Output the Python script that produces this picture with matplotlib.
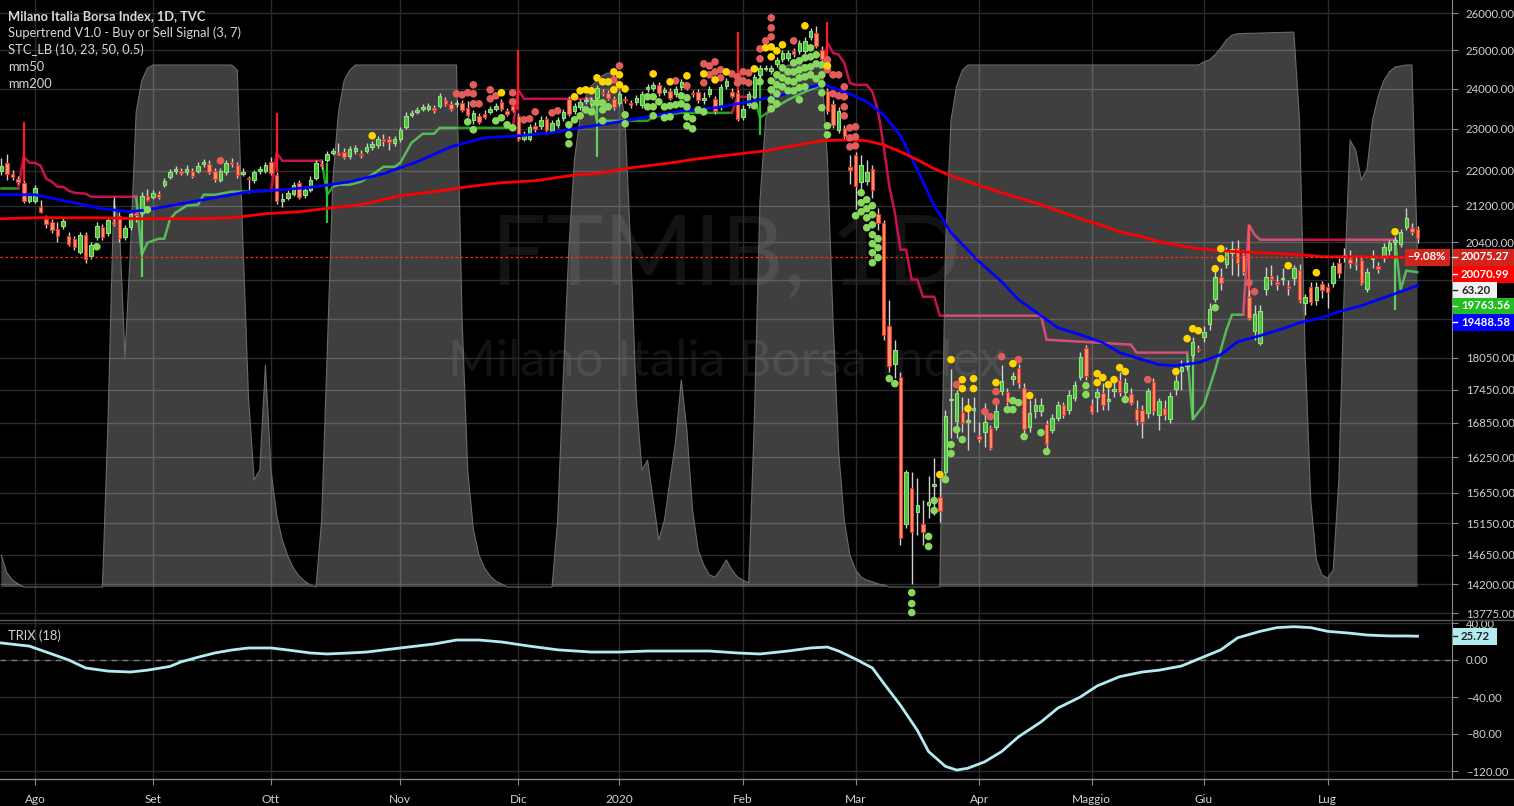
import numpy as np
import pandas as pd
import matplotlib
matplotlib.use('Agg')
import matplotlib.pyplot as plt
from matplotlib.patches import Rectangle
from matplotlib.lines import Line2D
from matplotlib.transforms import Affine2D, blended_transform_factory

plt.rcParams['font.family'] = ['Lato', 'DejaVu Sans']

# ---------------------------------------------------------------- data
holidays = ['2019-08-15', '2019-12-24', '2019-12-25', '2019-12-26', '2019-12-31',
            '2020-01-01', '2020-04-10', '2020-04-13', '2020-05-01']
dates = pd.bdate_range('2019-07-24', '2020-07-23')
dates = dates[~dates.isin(pd.to_datetime(holidays))]

month_names = {8: 'Ago', 9: 'Set', 10: 'Ott', 11: 'Nov', 12: 'Dic', 1: '2020',
               2: 'Feb', 3: 'Mar', 4: 'Apr', 5: 'Maggio', 6: 'Giu', 7: 'Lug'}

# daily candles (open, high, low, close)
candles = [
    # Jul 2019
    (22004, 22308, 21911, 22121), (22190, 22404, 21795, 21934), (21934, 22027, 21795, 21864),
    (21818, 21887, 21704, 21750), (21727, 21772, 21271, 21316), (21316, 21497, 21271, 21429),
    # Aug
    (21316, 21681, 21271, 21612), (21181, 21339, 21047, 21069), (20914, 21003, 20716, 20804),
    (20848, 20914, 20606, 20672), (20694, 20848, 20411, 20541), (20760, 20936, 20694, 20870),
    (20541, 20628, 20325, 20368), (20476, 20541, 20239, 20303), (20196, 20628, 20154, 20563),
    (20563, 20628, 19963, 20047), (20111, 20411, 20047, 20347), (20519, 20848, 20454, 20760),
    (20738, 20804, 20454, 20519), (20606, 20958, 20541, 20892), (20848, 21407, 20760, 20804),
    (20980, 21069, 20411, 20498), (20519, 20782, 20454, 20716), (20738, 21114, 20672, 21025),
    (21047, 21114, 20848, 21003), (21047, 21520, 21003, 21429), (21429, 21589, 21316, 21339),
    # Sep
    (21407, 21566, 21361, 21497), (21474, 21543, 21361, 21407), (21681, 21841, 21635, 21772),
    (21864, 22050, 21818, 21980), (22004, 22121, 21934, 22050), (22004, 22074, 21911, 21957),
    (21980, 22144, 21911, 22050), (22004, 22074, 21841, 21887), (22004, 22214, 21957, 22121),
    (22167, 22284, 22097, 22214), (22167, 22261, 21934, 21980), (22004, 22074, 21750, 21818),
    (21795, 22074, 21750, 22004), (21980, 22261, 21911, 22190), (22214, 22308, 22097, 22167),
    (22144, 22214, 21841, 21911), (21934, 22074, 21887, 21980), (21841, 21887, 21497, 21818),
    (21795, 22027, 21727, 21980), (22004, 22121, 21934, 22050), (22004, 22214, 21957, 22144),
    # Oct
    (22214, 22331, 21911, 21957), (21911, 21980, 21249, 21316), (21316, 21497, 21181, 21361),
    (21384, 21566, 21339, 21497), (21475, 21750, 21429, 21681), (21727, 21795, 21361, 21407),
    (21452, 21635, 21384, 21566), (21566, 21887, 21520, 21795), (21841, 22261, 21795, 22190),
    (22167, 22261, 22050, 22121), (22261, 22474, 22214, 22404), (22427, 22546, 22380, 22474),
    (22427, 22666, 22380, 22380), (22450, 22546, 22285, 22332), (22355, 22594, 22285, 22522),
    (22474, 22618, 22404, 22546), (22404, 22498, 22308, 22380), (22474, 22666, 22427, 22570),
    (22570, 22713, 22498, 22642), (22618, 22834, 22546, 22762), (22762, 22882, 22594, 22713),
    (22762, 22834, 22498, 22689), (22666, 22834, 22594, 22762),
    # Nov
    (22762, 23052, 22689, 22979), (23052, 23420, 23003, 23321), (23346, 23470, 23296, 23395),
    (23420, 23545, 23371, 23470), (23495, 23620, 23445, 23545), (23495, 23645, 23445, 23570),
    (23520, 23595, 23395, 23470), (23570, 23897, 23520, 23821), (23720, 23796, 23570, 23620),
    (23620, 23695, 23445, 23495), (23620, 23720, 23545, 23645), (23645, 23720, 23420, 23470),
    (23520, 23695, 23296, 23346), (23223, 23470, 23125, 23395), (23321, 23395, 23125, 23174),
    (23371, 23470, 23247, 23296), (23420, 23570, 23371, 23495), (23495, 23645, 23445, 23570),
    (23670, 23745, 23445, 23495), (23445, 23520, 23321, 23371), (23570, 23645, 23420, 23470),
    # Dec
    (23321, 23395, 22713, 22762), (22762, 22955, 22713, 22882), (22762, 23125, 22713, 23052),
    (23076, 23174, 22931, 23003), (23076, 23321, 23003, 23223), (23247, 23321, 22882, 22979),
    (22955, 23223, 22906, 23149), (23100, 23296, 23027, 23223), (23272, 23495, 23198, 23420),
    (23745, 23821, 23321, 23371), (23445, 23645, 23371, 23570), (23545, 23745, 23470, 23670),
    (23695, 23796, 23620, 23720), (23620, 23796, 23545, 23720), (23770, 24099, 23695, 24023),
    (23922, 23998, 23821, 23897), (23897, 23972, 23720, 23770), (23745, 23821, 23470, 23545),
    # Jan 2020
    (23645, 23947, 23570, 23872), (23745, 23821, 23645, 23720), (23645, 23720, 23520, 23595),
    (23670, 23846, 23595, 23770), (23595, 23947, 23520, 23872), (23998, 24125, 23922, 24049),
    (24023, 24176, 23947, 24099), (24099, 24176, 23821, 23897), (23922, 24049, 23846, 23972),
    (23947, 24023, 23720, 23770), (23872, 24074, 23796, 23998), (24049, 24252, 23972, 24176),
    (24099, 24176, 23972, 24049), (23897, 23972, 23796, 23872), (23922, 23998, 23645, 23720),
    (23720, 23922, 23620, 23770), (23872, 24074, 23796, 23998), (23745, 23821, 23371, 23445),
    (23545, 24125, 23470, 24049), (24074, 24278, 23998, 24201), (23922, 24023, 23770, 23821),
    (23897, 23972, 23198, 23247),
    # Feb
    (23296, 23595, 23223, 23495), (23595, 23947, 23520, 23872), (23796, 24381, 23720, 24304),
    (24356, 24615, 24278, 24537), (24511, 24615, 24459, 24537), (24459, 24615, 24381, 24537),
    (24641, 24825, 24563, 24746), (24772, 25009, 24693, 24930), (24799, 25009, 24720, 24930),
    (24983, 25062, 24825, 24904), (24983, 25275, 24904, 25195), (24983, 25356, 24904, 25248),
    (25356, 25598, 25275, 25517), (25463, 25652, 25062, 25115), (25009, 25115, 24693, 24772),
    (23947, 24023, 23371, 23445), (23620, 23720, 23027, 23100), (22979, 23545, 22906, 23445),
    (23027, 23100, 22762, 22834), (22097, 22380, 21704, 22027),
    # Mar
    (22380, 22450, 21136, 21658), (21750, 22380, 21566, 22144), (21772, 22261, 21681, 21980),
    (22050, 22144, 21384, 21566), (21025, 21159, 20672, 20826), (20826, 20892, 18401, 18498),
    (18674, 19196, 17788, 17901), (17939, 18401, 17676, 18207), (17694, 17788, 14813, 14922),
    (15146, 16036, 15082, 16002), (15733, 16002, 14199, 15018), (15339, 15900, 14970, 15453),
    (15146, 15535, 14813, 15018), (15453, 15934, 15242, 15502), (15767, 16240, 15290, 15800),
    (15584, 15900, 15178, 15355), (16002, 17087, 15900, 16979), (17269, 17845, 16588, 17287),
    (16889, 17452, 16588, 17397), (17051, 17324, 16694, 16853), (16871, 17305, 16379, 16907),
    (17087, 17324, 16694, 17123),
    # Apr
    (16623, 16871, 16518, 16570), (16694, 17214, 16431, 16871), (16765, 16818, 16379, 16414),
    (16782, 17269, 16729, 17069), (17434, 17920, 17360, 17620), (17415, 17489, 17177, 17232),
    (17657, 17788, 17545, 17713), (17864, 17939, 17489, 17583), (17489, 17583, 16676, 16747),
    (16782, 17269, 16694, 17033), (17069, 17305, 16943, 17177), (17069, 17305, 16979, 17177),
    (16836, 16907, 16414, 16484), (16729, 17015, 16676, 16943), (16943, 17250, 16889, 17177),
    (17177, 17232, 16943, 16997), (17087, 17452, 17015, 17360), (17306, 17620, 17250, 17545),
    (17694, 18170, 17638, 18070), (18246, 18304, 17638, 17713),
    # May
    (17177, 17287, 17015, 17051), (17324, 17489, 17051, 17415), (17397, 17583, 17087, 17177),
    (17250, 17489, 17087, 17287), (17434, 17676, 17324, 17471), (17638, 17788, 17343, 17415),
    (17415, 17676, 17324, 17583), (17378, 17489, 17177, 17214), (17105, 17269, 16818, 16907),
    (17087, 17177, 16588, 16871), (17033, 17489, 16943, 17434), (17600, 17676, 16997, 17069),
    (16997, 17305, 16729, 17250), (17123, 17269, 16907, 16997), (16925, 17415, 16853, 17343),
    (17471, 17732, 17360, 17620), (17807, 18015, 17452, 17883), (17901, 18015, 17826, 17939),
    (18100, 18460, 18053, 18362), (18227, 18304, 18168, 18207),
    # Jun
    (18460, 18674, 18362, 18557), (18714, 19135, 18596, 19014), (19216, 19815, 19155, 19669),
    (19669, 19857, 19400, 19545), (19941, 20304, 19857, 20217), (20175, 20432, 19712, 20260),
    (20282, 20454, 19690, 19963), (20132, 20239, 19711, 19774), (19257, 19400, 18794, 18834),
    (18576, 19095, 18401, 18914), (18343, 19095, 18304, 18974), (19420, 19878, 19298, 19669),
    (19690, 19920, 19503, 19628), (19566, 19711, 19400, 19524), (19628, 19857, 19503, 19649),
    (19483, 19607, 19298, 19441), (19649, 19920, 19503, 19857), (19815, 19941, 19135, 19196),
    (19135, 19318, 18894, 19257), (19462, 19566, 19095, 19155), (19196, 19566, 19095, 19462),
    (19524, 19586, 19237, 19400),
    # Jul
    (19462, 19545, 19034, 19359), (19545, 19984, 19462, 19899), (19963, 20068, 19649, 19753),
    (20089, 20282, 19984, 20132), (20047, 20239, 19857, 19963), (19950, 20132, 19815, 19941),
    (20026, 20132, 19503, 19545), (19420, 19857, 19359, 19774), (20047, 20239, 19857, 20089),
    (19899, 19984, 19753, 19836), (20089, 20389, 19984, 20304), (20239, 20454, 20132, 20389),
    (20411, 20541, 20347, 20454), (20368, 20694, 20303, 20628), (20738, 21159, 20672, 20936),
    (20716, 20826, 20563, 20628), (20694, 20760, 20389, 20498),
]

last_price = 20075.27
last_change = '\u22129.08%'

# moving averages (bar index, value)
mm50 = [(0, 21452), (6, 21452), (12, 21294), (18, 21136), (23, 21069), (26, 21114), (32, 21249),
        (38, 21384), (44, 21520), (50, 21566), (56, 21635), (62, 21750), (68, 21934), (74, 22214),
        (80, 22570), (86, 22785), (92, 22834), (98, 22906), (104, 23052), (110, 23174),
        (115, 23296), (121, 23445), (127, 23520), (133, 23670), (139, 23846), (145, 24074),
        (146, 24125), (151, 23872), (154, 23670), (157, 23346), (160, 22834), (163, 22027),
        (166, 21204), (169, 20606), (174, 19984), (178, 19566), (181, 19196), (185, 18874),
        (188, 18635), (192, 18498), (196, 18343), (199, 18150), (203, 18015), (206, 17920),
        (209, 17901), (213, 17958), (217, 18111), (220, 18362), (224, 18479), (228, 18615),
        (231, 18734), (235, 18834), (238, 18954), (242, 19075), (245, 19196), (249, 19359),
        (252, 19488.58)]
mm200 = [(0, 20914), (6, 20936), (12, 20936), (18, 20936), (24, 20914), (30, 20914), (35, 20914),
         (41, 20936), (47, 21025), (53, 21069), (59, 21159), (64, 21227), (71, 21429),
         (77, 21520), (83, 21635), (89, 21727), (95, 21772), (101, 21887), (107, 21957),
         (112, 22074), (118, 22167), (124, 22285), (130, 22380), (136, 22474), (142, 22618),
         (146, 22713), (151, 22737), (154, 22713), (157, 22618), (160, 22450), (163, 22261),
         (166, 22050), (169, 21887), (171, 21795), (178, 21497), (185, 21227), (192, 20914),
         (196, 20760), (199, 20628), (203, 20519), (206, 20411), (210, 20325), (213, 20260),
         (217, 20217), (220, 20196), (224, 20175), (228, 20154), (231, 20132), (235, 20089),
         (242, 20089), (249, 20080), (252, 20070.99)]

# Supertrend: uptrend (green) and downtrend (crimson) segments
st_up = [
    [(0, 21612), (3, 21612)],
    [(24, 21407), (25, 20132), (26, 20389), (28, 20476), (29, 20476), (30, 20892), (31, 21047),
     (33, 21204), (35, 21227), (36, 21452), (38, 21452), (41, 21520), (48, 21543)],
    [(57, 22238), (58, 21452), (59, 21635), (60, 21681), (62, 21681), (64, 21750), (66, 21911),
     (68, 22097), (70, 22097), (71, 22190), (73, 22666), (75, 22882), (77, 22882), (78, 23027),
     (91, 23027)],
    [(105, 23745), (106, 23198), (115, 23198), (116, 23296), (121, 23395), (130, 23395)],
    [(134, 23796), (135, 23272), (137, 23470), (140, 23720), (143, 23922), (146, 24099)],
    [(211, 18150), (212, 16907), (214, 17177), (216, 17826), (217, 18207), (218, 18596),
     (219, 18894), (221, 18894)],
    [(248, 20454), (249, 19400), (250, 19794), (252, 19763.56)],
]
st_dn = [
    [(3, 21612), (4, 22332), (5, 22190), (6, 22190), (7, 22121), (8, 21818), (9, 21750),
     (10, 21635), (11, 21635), (12, 21543), (13, 21497), (15, 21475), (16, 21407), (24, 21407)],
    [(48, 21543), (49, 22427), (50, 22238), (57, 22238)],
    [(91, 23027), (92, 23972), (93, 23745), (105, 23745)],
    [(130, 23395), (131, 23796), (134, 23796)],
    [(146, 24099), (147, 25195), (148, 24930), (149, 24879), (150, 24669), (151, 24150),
     (152, 24099), (154, 24099), (155, 23922), (156, 23445), (157, 22594), (158, 21658),
     (159, 21047), (160, 20239), (161, 20239), (162, 19607), (163, 19607), (164, 19257),
     (166, 19257), (167, 18874), (185, 18874), (186, 18400), (201, 18304), (202, 18150),
     (211, 18150)],
    [(221, 18894), (222, 20782), (223, 20563), (224, 20454), (248, 20454)],
]
sell_flips = [(4, 23174, 21750), (49, 23395, 21980), (92, 25009, 23470), (131, 25490, 23346),
              (147, 25762, 24746), (222, 20782, 18894)]
buy_flips = [(25, 21407, 19669), (58, 22190, 20826), (106, 23972, 22332), (135, 24510, 22858),
             (212, 18150, 16907), (248, 20454, 18994)]

# signal dots (bar index, price)
dots_red = [(39, 22238), (81, 23872), (82, 23846), (83, 23897), (84, 23872), (84, 23620),
            (85, 23620), (84, 24099), (87, 23972), (88, 23821), (87, 23745), (91, 23897),
            (91, 23670), (93, 23223), (94, 23247), (95, 23420), (98, 23395), (99, 23445),
            (109, 24227), (110, 24589), (120, 24201), (122, 24074), (125, 24641), (126, 24589),
            (127, 24693), (126, 24356), (127, 24433), (128, 24485), (125, 24150), (128, 24278),
            (130, 24381), (131, 24304), (132, 24433), (133, 24407), (132, 24201), (131, 24150),
            (133, 24150), (137, 25871), (137, 25598), (137, 25356), (136, 25248), (135, 25035),
            (135, 24772), (141, 25248), (147, 24746), (147, 24485), (148, 24356), (149, 24356),
            (150, 24048), (148, 23872), (149, 23821), (150, 23796), (150, 23545), (150, 23321),
            (151, 23027), (152, 23052), (151, 22785), (152, 22810), (151, 22569), (152, 22594),
            (170, 17545), (175, 17051), (176, 16961), (177, 17415), (177, 17232), (178, 18072),
            (181, 18015), (204, 17638), (222, 19545), (223, 19359)]
dots_yellow = [(66, 22834), (89, 23897), (102, 23796), (103, 23947), (104, 23972), (105, 23947),
               (106, 24278), (107, 24176), (108, 24176), (109, 24433), (110, 24356),
               (109, 23972), (110, 24099), (111, 23997), (116, 24381), (119, 24176),
               (122, 24330), (125, 24381), (127, 24227), (129, 24433), (134, 24510),
               (136, 25062), (137, 25088), (138, 24983), (139, 25142), (137, 24825),
               (143, 25653), (147, 24589), (167, 15951), (169, 18015), (171, 17638),
               (171, 17471), (173, 17657), (173, 17471), (172, 17105), (177, 17582),
               (180, 17939), (183, 17342), (195, 17750), (195, 17582), (196, 17676),
               (197, 17545), (198, 17638), (199, 17864), (200, 17789), (209, 17789),
               (211, 18420), (212, 18615), (213, 18576), (216, 19836), (217, 20047),
               (217, 20260), (229, 19899), (234, 19753), (248, 20628)]
dots_green = [(17, 20303), (26, 21114), (83, 23174), (84, 22979), (88, 23198), (89, 23272),
              (90, 23101), (91, 23027), (101, 23101), (101, 22858), (101, 22641), (102, 23223),
              (103, 23321), (104, 23470), (105, 23420), (106, 23645), (107, 23645), (107, 23470),
              (107, 23198), (108, 23545), (111, 23346), (111, 23125), (115, 23796), (116, 23796),
              (117, 23670), (115, 23545), (116, 23545), (118, 23545), (119, 23570), (120, 23595),
              (121, 23620), (122, 23545), (121, 23821), (122, 23770), (116, 23321), (118, 23272),
              (119, 23296), (122, 23296), (123, 23247), (122, 23076), (123, 23003), (124, 23470),
              (125, 23420), (134, 23570), (135, 24176), (137, 24201), (137, 23972), (137, 23720),
              (137, 23495), (138, 24356), (138, 24099), (138, 23872), (138, 23620), (139, 24537),
              (139, 24278), (139, 24048), (140, 24433), (140, 24201), (140, 23947), (141, 24667),
              (141, 24433), (141, 24176), (141, 23947), (142, 24720), (142, 24485), (142, 24278),
              (142, 24023), (142, 23720), (143, 24798), (143, 24537), (143, 24304), (143, 24048),
              (144, 25062), (144, 24825), (144, 24563), (144, 24356), (145, 24877), (145, 24641),
              (145, 24253), (146, 24615), (146, 24356), (146, 24125), (146, 23896), (146, 23520),
              (147, 23076), (147, 22858), (153, 21497), (153, 21271), (153, 21069), (152, 20980),
              (154, 21339), (154, 21136), (154, 20936), (154, 20716), (155, 21204), (155, 21003),
              (155, 20782), (155, 20563), (155, 20368), (155, 20175), (155, 19963), (156, 20476),
              (156, 20282), (156, 20068), (158, 17657), (159, 17563), (162, 14077), (162, 13915),
              (162, 13783), (165, 14939), (165, 14782), (166, 15518), (166, 15355), (168, 15867),
              (170, 16729), (169, 16466), (169, 16310), (171, 16553), (179, 17087), (180, 17250),
              (180, 17087), (181, 17214), (182, 16606), (185, 16676), (186, 16345), (193, 17526),
              (193, 17360), (200, 17269), (216, 19034)]

# STC_LB oscillator (bar index, value 0..100) drawn as a filled area on its own scale
stc = [(0, 6.1), (1, 2.7), (2, 1.3), (3, 0.6), (4, 0), (18, 0), (19, 32), (20, 74), (21, 70),
       (22, 44), (23, 65), (24, 91), (25, 97), (26, 99.4), (27, 100), (41, 100), (42, 99),
       (43, 66), (44, 36), (45, 20.5), (46, 22.4), (47, 42.5), (48, 22.4), (49, 13.8), (50, 9),
       (51, 5.9), (52, 3.6), (53, 2.1), (54, 1.1), (55, 0.4), (56, 0), (57, 12.8), (58, 45),
       (59, 78), (60, 91), (61, 97), (62, 99), (63, 100), (81, 100), (82, 51), (83, 22.4),
       (84, 11), (85, 6.1), (86, 3.6), (87, 2.1), (88, 1.1), (89, 0.6), (90, 0), (98, 0),
       (99, 12.8), (100, 40), (101, 65), (102, 82), (103, 90), (104, 94), (105, 96), (106, 97),
       (107, 98), (108, 98.5), (109, 98), (110, 96), (111, 89.5), (112, 64.6), (113, 35.8),
       (114, 22.4), (115, 24.3), (116, 16.7), (117, 9), (118, 12.8), (119, 20.5), (120, 28),
       (121, 39.7), (122, 30), (123, 14.8), (124, 7.1), (125, 4.2), (126, 2.3), (127, 1.9),
       (128, 3.3), (129, 5.2), (130, 3.3), (131, 1.9), (132, 1.3), (133, 0.8), (134, 32),
       (135, 74), (136, 89.5), (137, 95), (138, 98), (139, 99.4), (140, 100), (145, 100),
       (146, 99), (147, 82), (148, 51), (149, 26), (150, 12.8), (151, 6.1), (152, 3.3),
       (153, 1.9), (154, 1.3), (155, 1), (156, 0.6), (157, 0.4), (158, 0), (167, 0),
       (168, 64.6), (169, 89.5), (170, 96), (171, 99), (172, 100), (213, 100), (214, 100.6),
       (215, 101), (216, 102), (217, 103.3), (218, 104.8), (219, 105.7), (220, 106),
       (230, 106.3), (231, 89.5), (232, 45), (233, 16.7), (234, 5.2), (235, 2.3), (236, 1.7),
       (237, 3.3), (238, 20.5), (239, 59), (240, 85.6), (241, 83.7), (242, 78), (243, 80),
       (244, 89.5), (245, 94), (246, 97), (247, 98.7), (248, 99.6), (249, 99.8), (250, 100),
       (251, 100), (252, 63.2)]

# TRIX (18)
trix = [(0, 18.4), (5, 15), (8, 8.6), (12, 0), (15, -8.6), (19, -12), (23, -13), (26, -11),
        (30, -7), (32, -2), (35, 3), (38, 7.6), (41, 10.8), (44, 13), (48, 13), (51, 10.8),
        (55, 7.6), (58, 6.5), (62, 7.6), (65, 8.6), (71, 13), (77, 17.3), (81, 21.6), (85, 21.6),
        (89, 19.5), (94, 15), (99, 11), (105, 8.6), (110, 8.6), (115, 9.7), (121, 9.7),
        (126, 9.7), (131, 7.6), (135, 6.5), (140, 9.7), (144, 13), (147, 14), (149, 9.7),
        (152, 1), (155, -8.6), (157, -25), (160, -49), (163, -76), (165, -99), (168, -115),
        (170, -119), (172, -117), (175, -110), (178, -99), (181, -83), (185, -67), (188, -52),
        (192, -40), (195, -28), (199, -18), (203, -13), (206, -11), (210, -6.5), (213, 1),
        (217, 11), (220, 24), (224, 31), (227, 35), (230, 36), (233, 35), (236, 31), (240, 29),
        (243, 27), (247, 26), (250, 26), (252, 25.72)]

price_ticks = [26000, 25000, 24000, 23000, 22000, 21200, 20400, 19600, 18800, 18050,
               17450, 16850, 16250, 15650, 15150, 14650, 14200, 13775]
hidden_ticks = [19600, 18800]   # labels covered by the value boxes
trix_ticks = [40, 0, -40, -80, -120]

# ---------------------------------------------------------------- layout
W, H = 1514, 806
plot_w = 1452
main_top, main_bot = 0, 620
trix_top, trix_bot = 621, 779
bar_px, first_px = 5.62, 1.28
stc_zero_px, stc_full_px = 587, 65

bg = 'black'
grid_c = '#2c2c2c'
axis_c = '#8a8a8a'
text_c = '#d2d2d2'


def pix_axes(top, bottom):
    return [0, 1 - bottom / H, plot_w / W, (bottom - top) / H]


def fig_rect(x0, y0, x1, y1, color):
    fig.add_artist(Rectangle((x0 / W, 1 - y1 / H), (x1 - x0) / W, (y1 - y0) / H,
                             transform=fig.transFigure, facecolor=color,
                             edgecolor='none', zorder=10))


def fig_hline(y, x0, x1, color):
    fig.add_artist(Line2D([x0 / W, x1 / W], [1 - y / H, 1 - y / H], transform=fig.transFigure,
                          color=color, lw=1, zorder=10.5))


def pts(seq):
    a = np.array(seq, dtype=float)
    return a[:, 0], a[:, 1]


fig = plt.figure(figsize=(W / 100, H / 100), dpi=100, facecolor=bg)
ax = fig.add_axes(pix_axes(main_top, main_bot), facecolor=bg)
ax_t = fig.add_axes(pix_axes(trix_top, trix_bot), facecolor=bg, sharex=ax)

n = len(candles)
x = np.arange(n)
o, h, l, c = [np.array(col, dtype=float) for col in zip(*candles)]

month_pos = [i for i in range(1, n) if dates[i].month != dates[i - 1].month]
month_lab = [month_names[dates[i].month] for i in month_pos]

xlim = (-first_px / bar_px, (plot_w - first_px) / bar_px)
ax.set_yscale('log')
ax.set_xlim(*xlim)
ax.set_ylim(13675, 26364)
ax.set_autoscale_on(False)

# grid
ax.set_yticks(price_ticks)
ax.set_yticks([], minor=True)
ax.set_yticklabels(['' if t in hidden_ticks else '%.2f' % t for t in price_ticks])
ax.set_xticks(month_pos)
ax.grid(True, color=grid_c, lw=1, zorder=0)
ax.set_axisbelow(True)

# watermark
ax.text(0.5, 1 - 258 / 620, 'FTMIB, 1D', transform=ax.transAxes, ha='center', va='center',
        fontsize=70, color='#131313', zorder=0.5)
ax.text(0.5, 1 - 362 / 620, 'Milano Italia Borsa Index', transform=ax.transAxes,
        ha='center', va='center', fontsize=37, color='#131313', zorder=0.5)

# supertrend lines (under the STC area)
for seg in st_up:
    sx, sy = pts(seg)
    ax.plot(sx, sy, color='#23a023', lw=1.8, zorder=1.5, solid_joinstyle='miter')
for seg in st_dn:
    sx, sy = pts(seg)
    ax.plot(sx, sy, color='#c8124f', lw=1.8, zorder=1.5, solid_joinstyle='miter')
for i, top, bottom in sell_flips:
    ax.vlines(i, bottom, top, color='#ff1a1a', lw=1.6, zorder=1.6)
for i, top, bottom in buy_flips:
    ax.vlines(i, bottom, top, color='#2fbf2f', lw=1.6, zorder=1.6)

# STC area on its own 0..100 scale
stc_scale = Affine2D().scale(1, (stc_zero_px - stc_full_px) / 100 / (main_bot - main_top)) \
    .translate(0, (main_bot - stc_zero_px) / (main_bot - main_top))
stc_trans = blended_transform_factory(ax.transData, stc_scale + ax.transAxes)
sx, sy = pts(stc)
ax.fill_between(sx, 0, sy, transform=stc_trans, facecolor='white', alpha=0.25,
                edgecolor='none', zorder=2)
ax.plot(sx, sy, transform=stc_trans, color='#6a6a6a', lw=0.8, zorder=2.1)

# moving averages
mx, my = pts(mm50)
ax.plot(mx, my, color='#0000ff', lw=2, zorder=4)
mx, my = pts(mm200)
ax.plot(mx, my, color='#ff0000', lw=2, zorder=4)

# candles
up = c >= o
ax.vlines(x, l, h, color='#cfcfcf', lw=1, zorder=3)
ax.bar(x[up], (c - o)[up], bottom=o[up], width=0.62, color='#4fc23c',
       edgecolor='#90e37c', lw=0.8, zorder=3.5)
ax.bar(x[~up], (o - c)[~up], bottom=c[~up], width=0.62, color='#f8956a',
       edgecolor='#e8362a', lw=0.8, zorder=3.5)

# signal dots
for seq, col in [(dots_green, '#86d95c'), (dots_red, '#e35c5c'), (dots_yellow, '#ffd400')]:
    dx, dy = pts(seq)
    ax.scatter(dx, dy, s=30, color=col, edgecolors='none', zorder=5)

# last price line
ax.axhline(last_price, color='#ff2a2a', lw=0.9, ls=(0, (2, 2)), zorder=4.5)

for side in ['left', 'top', 'bottom']:
    ax.spines[side].set_visible(False)
ax.spines['right'].set_color(axis_c)
ax.tick_params(axis='y', which='both', left=False, labelleft=False, right=True,
               labelright=True, length=4, color=axis_c, labelcolor=text_c,
               labelsize=8.2, pad=6)
ax.tick_params(axis='x', bottom=False, labelbottom=False)

# ---------------------------------------------------------------- TRIX pane
ax_t.set_ylim((trix_bot - 660) / -0.925, (660 - trix_top) / 0.925)
tx, ty = pts(trix)
ax_t.plot(tx, ty, color='#b2ebf2', lw=2, zorder=3)
ax_t.axhline(0, color='#7a7a7a', lw=1, ls=(0, (4, 4)), zorder=2)
ax_t.set_yticks(trix_ticks)
ax_t.set_yticklabels([('%.2f' % t).replace('-', '\u2212') for t in trix_ticks])
ax_t.set_xticks(month_pos)
ax_t.set_xticklabels(month_lab)
ax_t.grid(True, color=grid_c, lw=1, zorder=0)
ax_t.set_axisbelow(True)
for side in ['left', 'top', 'bottom']:
    ax_t.spines[side].set_visible(False)
ax_t.spines['right'].set_color(axis_c)
ax_t.tick_params(axis='y', left=False, labelleft=False, right=True, labelright=True,
                 length=4, color=axis_c, labelcolor=text_c, labelsize=8.2, pad=6)
ax_t.tick_params(axis='x', bottom=True, length=4, color=axis_c, labelcolor=text_c,
                 labelsize=8.6, pad=7)
fig.text(8 / W, 1 - 636 / H, 'TRIX (18)', color=text_c, fontsize=9.3, va='center')

# pane separators
fig_hline(620, 0, W, '#5a5a5a')
fig_hline(779, 0, W, axis_c)

# ---------------------------------------------------------------- legend
legend = [('Milano Italia Borsa Index, 1D, TVC', 'bold'),
          ('Supertrend V1.0 - Buy or Sell Signal (3, 7)', 'normal'),
          ('STC_LB (10, 23, 50, 0.5)', 'normal'),
          ('mm50', 'normal'),
          ('mm200', 'normal')]
for k, (txt, wt) in enumerate(legend):
    fig.text(8 / W, 1 - (16 + 17 * k) / H, txt, color='#d8d8d8', fontsize=9.3,
             fontweight=wt, va='center', zorder=11)

# ---------------------------------------------------------------- value labels
value_labels = [('%.2f' % last_price, '#d0241d', 'white', 257, W),
                ('%.2f' % mm200[-1][1], '#ff0000', 'white', 274, W),
                ('%.2f' % stc[-1][1], '#f2f2f2', '#222222', 290, 1497),
                ('%.2f' % st_up[-1][-1][1], '#22bd22', 'white', 306, W),
                ('%.2f' % mm50[-1][1], '#0000ff', 'white', 322, W),
                ('%.2f' % trix[-1][1], '#b2ebf2', '#222222', 636, 1497)]
for txt, bgc, fgc, yc, x1 in value_labels:
    fig_rect(1453, yc - 8.5, x1, yc + 8.5, bgc)
    fig_hline(yc, 1453, 1457, fgc)
    fig.text(1461 / W, 1 - yc / H, txt, color=fgc, fontsize=8.2, fontweight='bold',
             va='center', zorder=11)
fig_rect(1405, 248.5, 1450, 265.5, '#d0241d')
fig.text(1446 / W, 1 - 257 / H, last_change, color='white', fontsize=8.2, fontweight='bold',
         va='center', ha='right', zorder=11)

fig.savefig('out.png', dpi=100, facecolor=bg)
